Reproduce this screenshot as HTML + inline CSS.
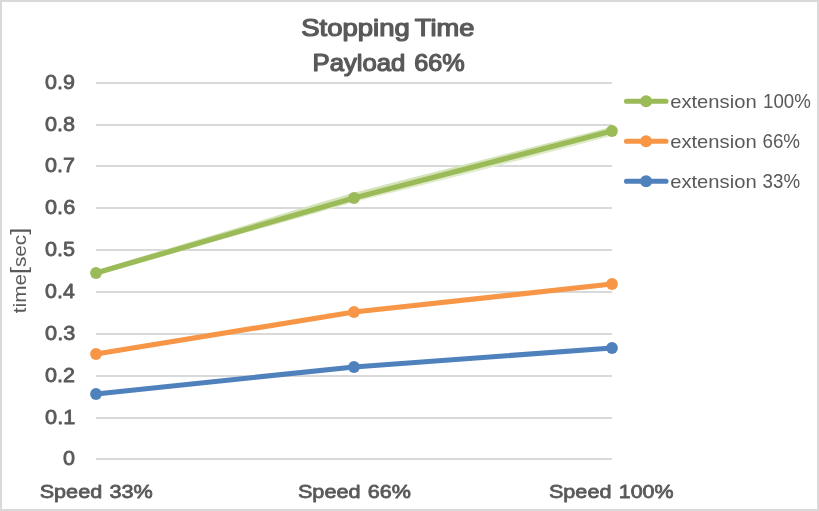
<!DOCTYPE html>
<html lang="en"><head><meta charset="utf-8"><title>Stopping Time Payload 66%</title>
<style>
html,body{margin:0;padding:0;background:#fff;}
body{width:819px;height:511px;overflow:hidden;}
svg{display:block;}
text{white-space:pre;}
</style></head><body>
<svg width="819" height="511" viewBox="0 0 819 511">
<rect x="0" y="0" width="819" height="511" fill="#d9d9d9"/>
<rect x="2" y="2" width="815" height="507" fill="#ffffff"/>
<rect x="96" y="82" width="516" height="2" fill="#d9d9d9"/>
<rect x="96" y="124" width="516" height="2" fill="#d9d9d9"/>
<rect x="96" y="165" width="516" height="2" fill="#d9d9d9"/>
<rect x="96" y="207" width="516" height="2" fill="#d9d9d9"/>
<rect x="96" y="249" width="516" height="2" fill="#d9d9d9"/>
<rect x="96" y="291" width="516" height="2" fill="#d9d9d9"/>
<rect x="96" y="333" width="516" height="2" fill="#d9d9d9"/>
<rect x="96" y="375" width="516" height="2" fill="#d9d9d9"/>
<rect x="96" y="417" width="516" height="2" fill="#d9d9d9"/>
<rect x="96" y="458" width="516" height="2" fill="#d9d9d9"/>
<polygon points="96,270.4 150,253.9 224,231.79 315,203.94 354,192.7 400,180.75 480,160.48 560,139.9 612,126.7 612,131.0 560,144.5 480,165.28 400,186.05 354,198.0 315,209.34 224,235.79 150,257.3 96,273.0" fill="#d5e3ba"/><polygon points="96,275.6 150,260.1 224,238.69 315,213.54 354,202.0 400,190.85 480,170.48 560,149.5 612,135.8 612,131.0 560,144.5 480,165.28 400,186.05 354,198.0 315,209.34 224,235.79 150,257.3 96,273.0" fill="#e0ebcb"/>
<polyline points="96,394 354,367 612,348" fill="none" stroke="#4f81bd" stroke-width="5.2" stroke-linecap="round" stroke-linejoin="round"/><circle cx="96" cy="394" r="5.9" fill="#4f81bd"/><circle cx="354" cy="367" r="5.9" fill="#4f81bd"/><circle cx="612" cy="348" r="5.9" fill="#4f81bd"/>
<polyline points="96,354 354,312 612,284" fill="none" stroke="#f79646" stroke-width="5.2" stroke-linecap="round" stroke-linejoin="round"/><circle cx="96" cy="354" r="5.9" fill="#f79646"/><circle cx="354" cy="312" r="5.9" fill="#f79646"/><circle cx="612" cy="284" r="5.9" fill="#f79646"/>
<polyline points="96,273 354,198 612,131" fill="none" stroke="#9bbb59" stroke-width="5.2" stroke-linecap="round" stroke-linejoin="round"/><circle cx="96" cy="273" r="5.9" fill="#9bbb59"/><circle cx="354" cy="198" r="5.9" fill="#9bbb59"/><circle cx="612" cy="131" r="5.9" fill="#9bbb59"/>
<line x1="626.5" y1="101.2" x2="666" y2="101.2" stroke="#9bbb59" stroke-width="5.1" stroke-linecap="round"/><circle cx="646.1" cy="101.2" r="6.0" fill="#9bbb59"/>
<line x1="626.5" y1="141.2" x2="666" y2="141.2" stroke="#f79646" stroke-width="5.1" stroke-linecap="round"/><circle cx="646.1" cy="141.2" r="6.0" fill="#f79646"/>
<line x1="626.5" y1="181.2" x2="666" y2="181.2" stroke="#4f81bd" stroke-width="5.1" stroke-linecap="round"/><circle cx="646.1" cy="181.2" r="6.0" fill="#4f81bd"/>
<g fill="#595959" font-family="'Liberation Sans', sans-serif">
<text id="t1a" x="301.27" y="36.00" font-size="23.2" font-weight="normal" stroke="#595959" stroke-width="1.2" stroke-linejoin="round" textLength="116.19" lengthAdjust="spacingAndGlyphs">Stopping </text>
<text id="t1b" x="414.87" y="36.00" font-size="23.2" font-weight="normal" stroke="#595959" stroke-width="1.2" stroke-linejoin="round" textLength="59.58" lengthAdjust="spacingAndGlyphs">Time</text>
<text id="t2a" x="312.55" y="71.00" font-size="23.2" font-weight="normal" stroke="#595959" stroke-width="1.2" stroke-linejoin="round" textLength="100.00" lengthAdjust="spacingAndGlyphs">Payload </text>
<text id="t2b" x="414.19" y="71.00" font-size="23.2" font-weight="normal" stroke="#595959" stroke-width="1.2" stroke-linejoin="round" textLength="50.45" lengthAdjust="spacingAndGlyphs">66%</text>
<text id="y0.9" x="45.09" y="89.20" font-size="19.7" font-weight="normal" stroke="#595959" stroke-width="0.78" stroke-linejoin="round" textLength="29.84" lengthAdjust="spacingAndGlyphs">0.9</text>
<text id="y0.8" x="45.10" y="131.20" font-size="19.7" font-weight="normal" stroke="#595959" stroke-width="0.78" stroke-linejoin="round" textLength="30.06" lengthAdjust="spacingAndGlyphs">0.8</text>
<text id="y0.7" x="45.08" y="172.20" font-size="19.7" font-weight="normal" stroke="#595959" stroke-width="0.78" stroke-linejoin="round" textLength="29.93" lengthAdjust="spacingAndGlyphs">0.7</text>
<text id="y0.6" x="45.11" y="214.20" font-size="19.7" font-weight="normal" stroke="#595959" stroke-width="0.78" stroke-linejoin="round" textLength="30.04" lengthAdjust="spacingAndGlyphs">0.6</text>
<text id="y0.5" x="45.11" y="256.20" font-size="19.7" font-weight="normal" stroke="#595959" stroke-width="0.78" stroke-linejoin="round" textLength="29.93" lengthAdjust="spacingAndGlyphs">0.5</text>
<text id="y0.4" x="45.14" y="298.20" font-size="19.7" font-weight="normal" stroke="#595959" stroke-width="0.78" stroke-linejoin="round" textLength="29.68" lengthAdjust="spacingAndGlyphs">0.4</text>
<text id="y0.3" x="45.10" y="340.20" font-size="19.7" font-weight="normal" stroke="#595959" stroke-width="0.78" stroke-linejoin="round" textLength="30.15" lengthAdjust="spacingAndGlyphs">0.3</text>
<text id="y0.2" x="45.08" y="382.20" font-size="19.7" font-weight="normal" stroke="#595959" stroke-width="0.78" stroke-linejoin="round" textLength="29.93" lengthAdjust="spacingAndGlyphs">0.2</text>
<text id="y0.1" x="45.10" y="424.20" font-size="19.7" font-weight="normal" stroke="#595959" stroke-width="0.78" stroke-linejoin="round" textLength="30.16" lengthAdjust="spacingAndGlyphs">0.1</text>
<text id="y0" x="63.08" y="465.40" font-size="19.7" font-weight="normal" stroke="#595959" stroke-width="0.78" stroke-linejoin="round" textLength="11.97" lengthAdjust="spacingAndGlyphs">0</text>
<text id="x1a" x="39.69" y="498.00" font-size="19.0" font-weight="normal" stroke="#595959" stroke-width="0.78" stroke-linejoin="round" textLength="68.51" lengthAdjust="spacingAndGlyphs">Speed </text>
<text id="x1b" x="109.52" y="498.00" font-size="19.0" font-weight="normal" stroke="#595959" stroke-width="0.78" stroke-linejoin="round" textLength="43.24" lengthAdjust="spacingAndGlyphs">33%</text>
<text id="x2a" x="297.92" y="498.00" font-size="19.0" font-weight="normal" stroke="#595959" stroke-width="0.78" stroke-linejoin="round" textLength="68.71" lengthAdjust="spacingAndGlyphs">Speed </text>
<text id="x2b" x="367.72" y="498.00" font-size="19.0" font-weight="normal" stroke="#595959" stroke-width="0.78" stroke-linejoin="round" textLength="43.13" lengthAdjust="spacingAndGlyphs">66%</text>
<text id="x3a" x="548.92" y="498.00" font-size="19.0" font-weight="normal" stroke="#595959" stroke-width="0.78" stroke-linejoin="round" textLength="68.55" lengthAdjust="spacingAndGlyphs">Speed </text>
<text id="x3b" x="618.76" y="498.00" font-size="19.0" font-weight="normal" stroke="#595959" stroke-width="0.78" stroke-linejoin="round" textLength="54.77" lengthAdjust="spacingAndGlyphs">100%</text>
<text id="l1a" x="670.19" y="107.70" font-size="17.9" font-weight="normal" textLength="92.05" lengthAdjust="spacingAndGlyphs">extension </text>
<text id="l1b" x="763.02" y="107.70" font-size="19.4" font-weight="normal" textLength="47.76" lengthAdjust="spacingAndGlyphs">100%</text>
<text id="l2a" x="670.19" y="147.70" font-size="17.9" font-weight="normal" textLength="92.05" lengthAdjust="spacingAndGlyphs">extension </text>
<text id="l2b" x="762.43" y="147.70" font-size="19.4" font-weight="normal" textLength="37.63" lengthAdjust="spacingAndGlyphs">66%</text>
<text id="l3a" x="670.19" y="187.70" font-size="17.9" font-weight="normal" textLength="92.05" lengthAdjust="spacingAndGlyphs">extension </text>
<text id="l3b" x="762.61" y="187.70" font-size="19.4" font-weight="normal" textLength="37.48" lengthAdjust="spacingAndGlyphs">33%</text>
<text id="rot" transform="translate(25.9 313) rotate(-90)" x="-0.23" y="0" font-size="17.7" textLength="85.42" lengthAdjust="spacingAndGlyphs">time<tspan font-size="21.3">[</tspan>sec<tspan font-size="21.3">]</tspan></text>
</g></svg>
</body></html>
